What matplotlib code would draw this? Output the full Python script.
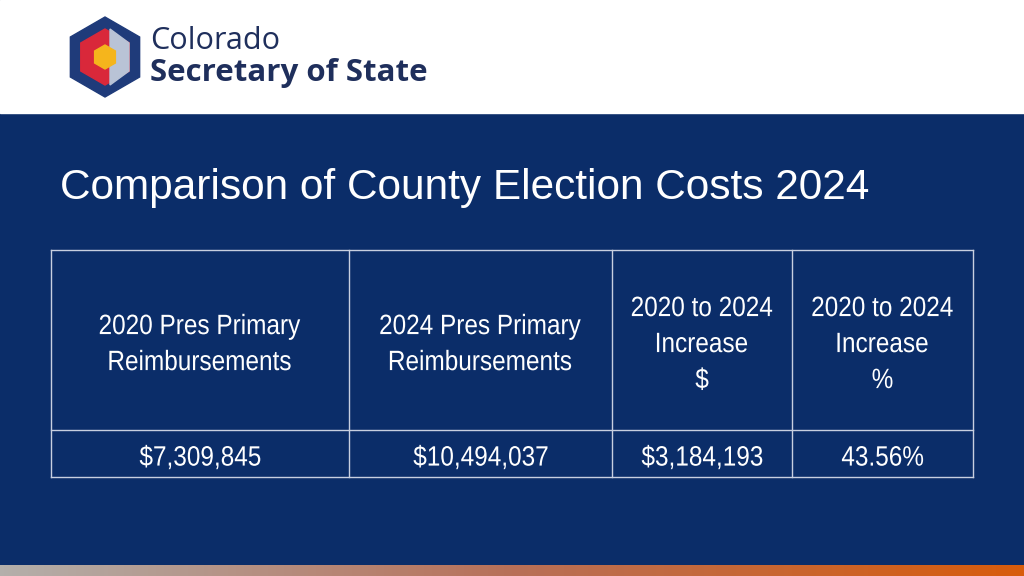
import numpy as np
import matplotlib.pyplot as plt
from matplotlib.patches import Rectangle, Polygon, PathPatch
from matplotlib.textpath import TextPath
from matplotlib.font_manager import FontProperties
from matplotlib.transforms import Affine2D
from matplotlib.colors import LinearSegmentedColormap

headers = ["2020 Pres Primary\nReimbursements", "2024 Pres Primary\nReimbursements",
           "2020 to 2024\nIncrease\n$", "2020 to 2024\nIncrease\n%"]
values = ["$7,309,845", "$10,494,037", "$3,184,193", "43.56%"]
col_edges = [51, 349, 612, 792, 973]

NAVY = "#0b2d69"
fig = plt.figure(figsize=(10.24, 5.76), dpi=100)
ax = fig.add_axes([0, 0, 1, 1])
ax.axis("off")

ax.add_patch(Rectangle((0, 0), 1024, 576, color=NAVY))
ax.add_patch(Rectangle((0, 0), 1024, 113, color="white"))

grad = np.linspace(0, 1, 256)[None, :]
cmap = LinearSegmentedColormap.from_list("g", ["#b3afab", "#b87058", "#d85c0c"])
ax.imshow(grad, cmap=cmap, extent=(0, 1024, 576, 565), aspect="auto", zorder=2)
ax.set_xlim(0, 1024)
ax.set_ylim(576, 0)

# logo
cx, cy, r = 105, 57, 40
ang = np.deg2rad(np.arange(6) * 60 + 30)
ax.add_patch(Polygon(np.c_[cx + r * np.cos(ang), cy + r * np.sin(ang)], color="#1f3b7a"))
ax.add_patch(Polygon(np.c_[cx + 28 * np.cos(ang), cy + 28 * np.sin(ang)], color="#d9283a"))
ax.add_patch(Polygon([[cx + 5, cy - 28], [cx + 24, cy - 14], [cx + 24, cy + 14], [cx + 5, cy + 28]],
                     color="#b9c3d6"))
ax.add_patch(Polygon(np.c_[cx + 12 * np.cos(ang), cy + 12 * np.sin(ang)], color="#f5b51c"))
ax.text(150, 41, "Colorado", fontsize=22, color="#1f2f5c", va="center", fontfamily="Open Sans")
ax.text(150, 73, "Secretary of State", fontsize=22.5, color="#1f2f5c", va="center",
        fontweight="bold", fontfamily="Open Sans")

ax.text(60, 188, "Comparison of County Election Costs 2024", fontsize=30.5, color="white",
        va="center", fontfamily="Liberation Sans")

fp = FontProperties(family="Liberation Sans")


def narrow_text(xc, yc, s, size=28, sx=0.87, spacing=36):
    # text drawn as a path, squeezed horizontally to mimic a narrow face
    lines = s.split("\n")
    y0 = yc - spacing * (len(lines) - 1) / 2
    for k, line in enumerate(lines):
        tp = TextPath((0, 0), line, size=size, prop=fp)
        bb = tp.get_extents()
        tr = (Affine2D().translate(-(bb.x0 + bb.x1) / 2, -size * 0.36)
              .scale(sx, -1).translate(xc, y0 + k * spacing))
        ax.add_patch(PathPatch(tr.transform_path(tp), color="white", lw=0))


top, mid, bot = 250, 430, 477
lc = "#c8cfe0"
for y in (top, mid, bot):
    ax.plot([col_edges[0], col_edges[-1]], [y, y], color=lc, lw=1)
for x in col_edges:
    ax.plot([x, x], [top, bot], color=lc, lw=1)
for i in range(4):
    xc = (col_edges[i] + col_edges[i + 1]) / 2
    narrow_text(xc, (top + mid) / 2 + 2, headers[i])
    narrow_text(xc, (mid + bot) / 2 + 2, values[i])

fig.savefig("out.png", dpi=100)
